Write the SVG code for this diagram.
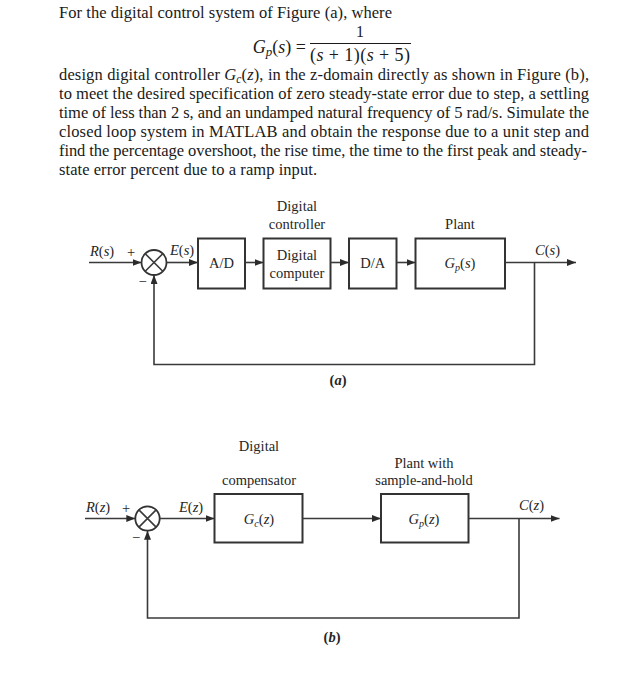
<svg xmlns="http://www.w3.org/2000/svg" width="641" height="700" viewBox="0 0 641 700">
<defs>
<marker id="ah" markerUnits="userSpaceOnUse" markerWidth="10" markerHeight="8" refX="9" refY="3.5" orient="auto"><path d="M0,0 L9,3.5 L0,7 z" fill="#2b2b2b"/></marker>
</defs>
<style>
.t{font-family:"Liberation Serif","Times New Roman",serif;fill:#1a1a1a}
.body{font-size:16.5px}
.eq{font-size:18px}
.lab{font-size:14.5px;fill:#262626}
.mid{text-anchor:middle}
.it{font-style:italic}
.bf{font-weight:bold}
.box{fill:#fff;stroke:#333;stroke-width:2}
.ln{fill:none;stroke:#3a3a3a;stroke-width:1.6}
.arr{marker-end:url(#ah)}
.sum{fill:#fff;stroke:#333;stroke-width:1.8}
</style>
<rect width="641" height="700" fill="#fff"/>

<g id="problem-text">
<text class="t body" x="59" y="18" textLength="333" lengthAdjust="spacing">For the digital control system of Figure (a), where</text>
<text class="t eq" x="306" y="53" text-anchor="end"><tspan class="it">G</tspan><tspan class="it" font-size="13" dy="3">p</tspan><tspan dy="-3">(</tspan><tspan class="it">s</tspan>) =</text>
<text class="t mid" x="360" y="37" font-size="16">1</text>
<line x1="310" y1="43.5" x2="411" y2="43.5" stroke="#1a1a1a" stroke-width="1.2"/>
<text class="t eq mid" x="360" y="61" textLength="100" lengthAdjust="spacing">(<tspan class="it">s</tspan> + 1)(<tspan class="it">s</tspan> + 5)</text>
<text class="t body" x="59" y="80" textLength="530" lengthAdjust="spacing">design digital controller <tspan class="it">G</tspan><tspan class="it" font-size="11.5" dy="3">c</tspan><tspan dy="-3">(</tspan><tspan class="it">z</tspan>), in the z-domain directly as shown in Figure (b),</text>
<text class="t body" x="59" y="99" textLength="530" lengthAdjust="spacing">to meet the desired specification of zero steady-state error due to step, a settling</text>
<text class="t body" x="59" y="118" textLength="530" lengthAdjust="spacing">time of less than 2 s, and an undamped natural frequency of 5 rad/s. Simulate the</text>
<text class="t body" x="59" y="137" textLength="530" lengthAdjust="spacing">closed loop system in MATLAB and obtain the response due to a unit step and</text>
<text class="t body" x="59" y="156" textLength="528" lengthAdjust="spacing">find the percentage overshoot, the rise time, the time to the first peak and steady-</text>
<text class="t body" x="59" y="175" textLength="258" lengthAdjust="spacing">state error percent due to a ramp input.</text>
</g>

<!-- Figure (a) -->
<g id="a-sum">
<circle class="sum" cx="154" cy="262.5" r="12.5"/>
<path class="ln" d="M145.2,253.7 L162.8,271.3 M162.8,253.7 L145.2,271.3"/>
<text class="t lab mid" x="131" y="256.5">+</text>
<text class="t lab mid" x="142.5" y="286">−</text>
</g>
<g id="a-ad">
<rect class="box" x="198" y="238.5" width="47" height="50"/>
<text class="t lab mid" x="221.5" y="267.5">A/D</text>
</g>
<g id="a-computer">
<text class="t lab mid" x="297" y="211">Digital</text>
<text class="t lab mid" x="297" y="229">controller</text>
<rect class="box" x="263.5" y="238.5" width="67" height="50"/>
<text class="t lab mid" x="297" y="260">Digital</text>
<text class="t lab mid" x="297" y="277.5">computer</text>
</g>
<g id="a-da">
<rect class="box" x="349" y="238.5" width="47.5" height="50"/>
<text class="t lab mid" x="372.7" y="267.5">D/A</text>
</g>
<g id="a-plant">
<text class="t lab mid" x="460" y="229">Plant</text>
<rect class="box" x="415.5" y="238.5" width="89.5" height="50"/>
<text class="t lab mid" x="460" y="267.5"><tspan class="it">G</tspan><tspan class="it" font-size="10" dy="3">p</tspan><tspan dy="-3">(</tspan><tspan class="it">s</tspan>)</text>
</g>
<g id="a-labels">
<text class="t lab" x="90" y="256"><tspan class="it">R</tspan>(<tspan class="it">s</tspan>)</text>
<text class="t lab" x="170" y="255"><tspan class="it">E</tspan>(<tspan class="it">s</tspan>)</text>
<text class="t lab" x="535" y="255"><tspan class="it">C</tspan>(<tspan class="it">s</tspan>)</text>
<text class="t lab bf mid" x="338" y="385">(<tspan class="it">a</tspan>)</text>
</g>

<!-- Figure (b) -->
<g id="b-sum">
<circle class="sum" cx="147.5" cy="518.5" r="12.2"/>
<path class="ln" d="M138.9,509.9 L156.1,527.1 M156.1,509.9 L138.9,527.1"/>
<text class="t lab mid" x="126" y="513">+</text>
<text class="t lab mid" x="136" y="542">−</text>
</g>
<g id="b-comp">
<text class="t lab mid" x="259" y="450.5">Digital</text>
<text class="t lab mid" x="259" y="484.5">compensator</text>
<rect class="box" x="214.5" y="494" width="88" height="48.5"/>
<text class="t lab mid" x="259" y="524"><tspan class="it">G</tspan><tspan class="it" font-size="10" dy="3">c</tspan><tspan dy="-3">(</tspan><tspan class="it">z</tspan>)</text>
</g>
<g id="b-plant">
<text class="t lab mid" x="424" y="467.5">Plant with</text>
<text class="t lab mid" x="424" y="484.5">sample-and-hold</text>
<rect class="box" x="381" y="494" width="87.5" height="48.5"/>
<text class="t lab mid" x="424" y="524"><tspan class="it">G</tspan><tspan class="it" font-size="10" dy="3">p</tspan><tspan dy="-3">(</tspan><tspan class="it">z</tspan>)</text>
</g>
<g id="b-labels">
<text class="t lab" x="86" y="512"><tspan class="it">R</tspan>(<tspan class="it">z</tspan>)</text>
<text class="t lab" x="179" y="512"><tspan class="it">E</tspan>(<tspan class="it">z</tspan>)</text>
<text class="t lab" x="519" y="510"><tspan class="it">C</tspan>(<tspan class="it">z</tspan>)</text>
<text class="t lab bf mid" x="332" y="642">(<tspan class="it">b</tspan>)</text>
</g>

<g id="connectors">
<path class="ln arr" d="M89,262.5 H141.5"/>
<path class="ln arr" d="M166.5,262.5 H198"/>
<path class="ln arr" d="M245,262.5 H263.5"/>
<path class="ln arr" d="M330.5,262.5 H349"/>
<path class="ln arr" d="M396.5,262.5 H415.5"/>
<path class="ln arr" d="M505,262.5 H576"/>
<path class="ln arr" d="M534.5,262.5 V364.5 H154 V275"/>
<path class="ln arr" d="M85,518.5 H135.3"/>
<path class="ln arr" d="M159.7,518.5 H214.5"/>
<path class="ln arr" d="M302.5,518.5 H381"/>
<path class="ln arr" d="M468.5,518.5 H559.5"/>
<path class="ln arr" d="M519,518.5 V618 H147.5 V530.7"/>
</g>
</svg>
